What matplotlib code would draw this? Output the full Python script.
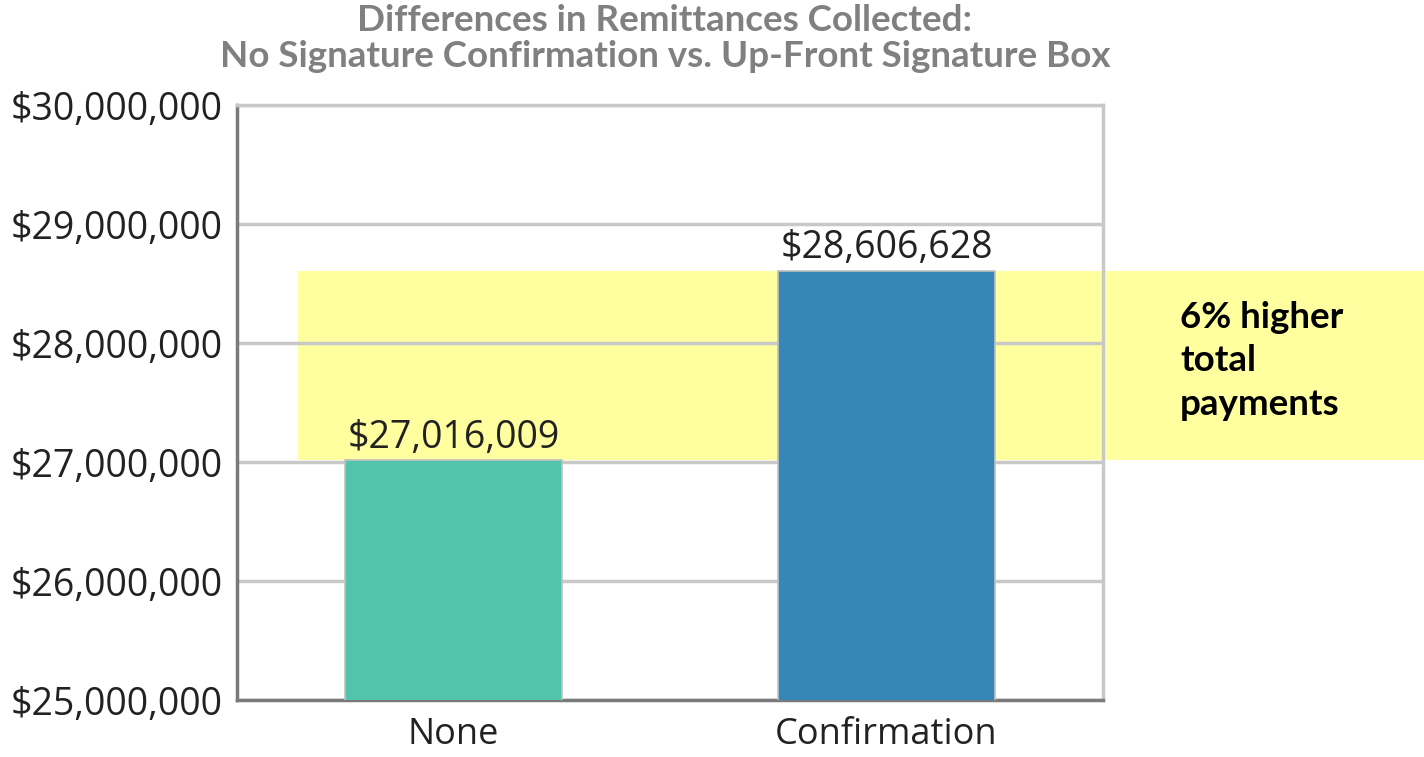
"""Remittances collected: no signature confirmation vs. up-front signature box."""

import matplotlib.pyplot as plt
from matplotlib.patches import Rectangle
from matplotlib.ticker import FuncFormatter

categories = ["None", "Confirmation"]
remittances = [27016009, 28606628]
bar_colors = ["#52C4AB", "#3687B8"]
y_ticks = [25000000, 26000000, 27000000, 28000000, 29000000, 30000000]
callout = "6% higher\ntotal\npayments"


def money(v, _pos=None):
    return f"${v:,.0f}"


fig = plt.figure(figsize=(14.24, 7.57), dpi=100)
ax = fig.add_axes([237 / 1424, 1 - 700 / 757, 866 / 1424, 595 / 757])

x = range(len(categories))
ax.bar(x, remittances, width=0.5, color=bar_colors, edgecolor="#c0c0c0",
       linewidth=1.2, zorder=3)

# highlight band spanning the gap between the two bars
band = Rectangle((-0.36, remittances[0]), 2.7, remittances[1] - remittances[0],
                 facecolor="#FFFFA0", edgecolor="none", zorder=0.2, clip_on=False)
ax.add_patch(band)

for xi, v in zip(x, remittances):
    ax.text(xi, v + 30000, money(v), ha="center", va="bottom",
            family="Open Sans", fontsize=27, color="#222222", zorder=4)

ax.set_xlim(-0.5, 1.5)
ax.set_ylim(y_ticks[0], y_ticks[-1])
ax.set_yticks(y_ticks)
ax.yaxis.set_major_formatter(FuncFormatter(money))
ax.set_xticks(list(x))
ax.set_xticklabels(categories)
ax.tick_params(length=0, labelsize=27, labelcolor="#222222")
ax.tick_params(axis="x", pad=12, labelsize=26)
ax.tick_params(axis="y", pad=10)
for lbl in ax.get_xticklabels() + ax.get_yticklabels():
    lbl.set_family("Open Sans")

ax.set_axisbelow(True)
ax.grid(axis="y", color="#c8c8c8", linewidth=2.5)
for side in ["left", "bottom"]:
    ax.spines[side].set_color("#7a7a7a")
    ax.spines[side].set_linewidth(2.5)
for side in ["top", "right"]:
    ax.spines[side].set_color("#c8c8c8")
    ax.spines[side].set_linewidth(2.5)

fig.text(665 / 1424, 1 - 4 / 757,
         "Differences in Remittances Collected:\n"
         "No Signature Confirmation vs. Up-Front Signature Box",
         ha="center", va="top", family="Lato", fontweight="bold",
         fontsize=26.5, color="#808080", linespacing=1.1)

fig.text(1180 / 1424, 1 - 301 / 757, callout, ha="left", va="top",
         family="Lato", fontweight="bold", fontsize=26.5, color="black",
         linespacing=1.38)

fig.savefig("out.png", dpi=100, facecolor="white")
